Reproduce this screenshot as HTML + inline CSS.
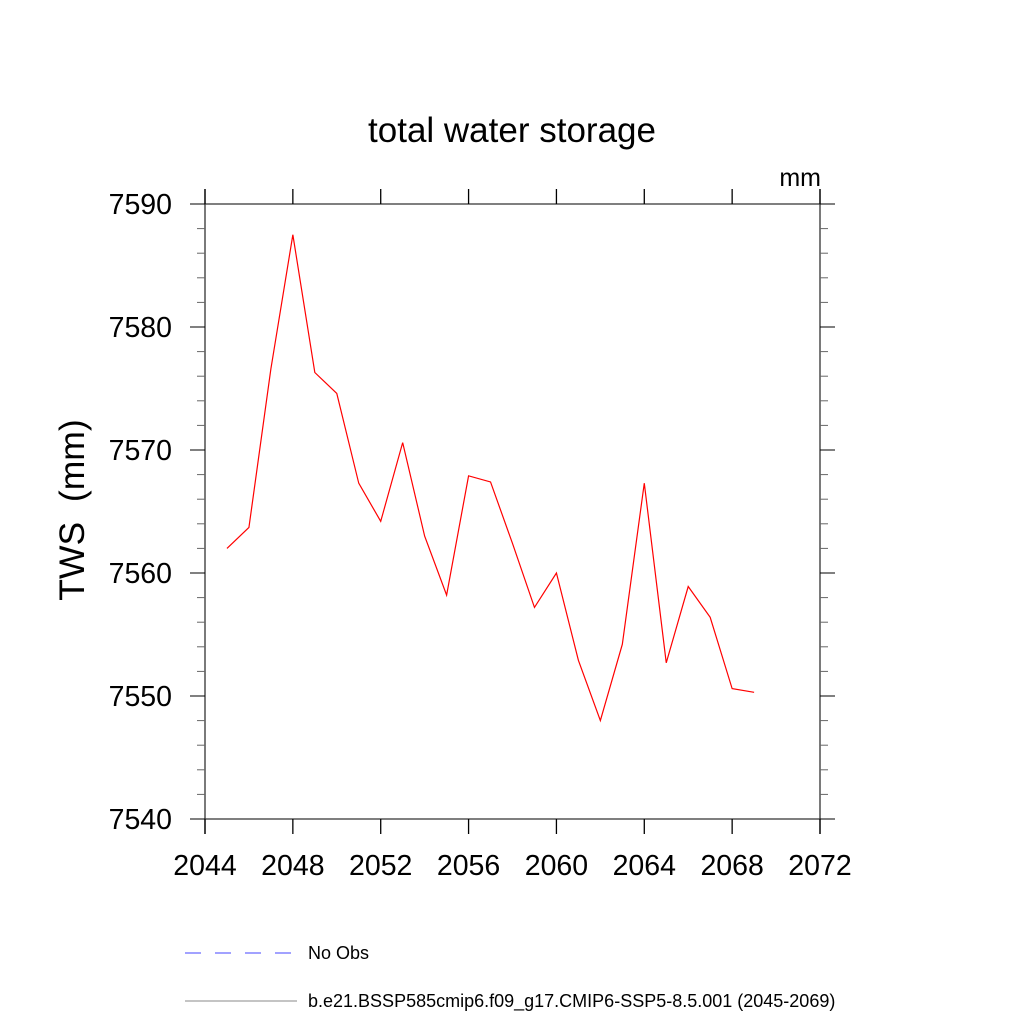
<!DOCTYPE html>
<html><head><meta charset="utf-8"><style>body{margin:0;background:#fff}svg{display:block;font-family:"Liberation Sans",sans-serif}</style></head>
<body>
<svg id="c" width="1024" height="1024">
<text x="512" y="142" text-anchor="middle" font-size="35">total water storage</text>
<text x="821" y="186" text-anchor="end" font-size="25">mm</text>
<text transform="translate(84,510) rotate(-90)" text-anchor="middle" font-size="35.5" style="white-space:pre">TWS  (mm)</text>
<g id="axes"></g>
<polyline id="series" fill="none" stroke="#ff0000" stroke-width="1.2"/>
<line x1="185" y1="953" x2="292" y2="953" stroke="#4444ff" stroke-width="1" stroke-dasharray="16,14"/>
<text x="308" y="959" font-size="18">No Obs</text>
<line x1="185" y1="1001" x2="297" y2="1001" stroke="#888" stroke-width="1"/>
<text x="308" y="1007" font-size="18">b.e21.BSSP585cmip6.f09_g17.CMIP6-SSP5-8.5.001 (2045-2069)</text>
</svg>
<script>
const years=[2045,2046,2047,2048,2049,2050,2051,2052,2053,2054,2055,2056,2057,2058,2059,2060,2061,2062,2063,2064,2065,2066,2067,2068,2069];
const tws=[7562.0,7563.7,7576.6,7587.5,7576.3,7574.6,7567.3,7564.2,7570.6,7563.0,7558.2,7567.9,7567.4,7562.4,7557.2,7560.0,7552.9,7548.0,7554.2,7567.3,7552.7,7558.9,7556.4,7550.6,7550.3];
const xTicks=[2044,2048,2052,2056,2060,2064,2068,2072];
const yTicks=[7540,7550,7560,7570,7580,7590];
const L=205,R=820,T=204,B=819;
const xs=v=>L+(v-2044)/28*(R-L);
const ys=v=>B-(v-7540)/50*(B-T);
const NS='http://www.w3.org/2000/svg';
const g=document.getElementById('axes');
function ln(x1,y1,x2,y2,w,c){const e=document.createElementNS(NS,'line');e.setAttribute('x1',x1);e.setAttribute('y1',y1);e.setAttribute('x2',x2);e.setAttribute('y2',y2);e.setAttribute('stroke',c||'#000');e.setAttribute('stroke-width',w||1);g.appendChild(e);return e;}
function tx(x,y,s,a){const e=document.createElementNS(NS,'text');e.setAttribute('x',x);e.setAttribute('y',y);e.setAttribute('font-size',28.5);e.setAttribute('text-anchor',a);e.textContent=s;g.appendChild(e);return e;}
let f=ln(L,T,R,T,1.3,'#333');


f=ln(L,B,R,B,1.3,'#333');


f=ln(L,T-15,L,B+15,1.3,'#333');


f=ln(R,T-15,R,B+15,1.3,'#333');


xTicks.forEach(v=>{const x=xs(v);
 let t=ln(x,T,x,T-15,1.3);
 
 
 t=ln(x,B,x,B+15,1.3);
 
 
 const l=tx(x,875,String(v),'middle');
 
 });
for(let v=7540;v<=7590;v+=2){const y=ys(v);const maj=(v%10===0);const len=maj?15:8;const c=maj?'#000':'#666';
 let t=ln(L,y,L-len,y,1,c);
 
 
 t=ln(R,y,R+len,y,1,c);
 
 }
yTicks.forEach(v=>{const l=tx(172,ys(v)+10,String(v),'end');
 
 });
document.getElementById('series').setAttribute('points',years.map((y,i)=>xs(y)+','+ys(tws[i])).join(' '));
</script>
</body></html>
